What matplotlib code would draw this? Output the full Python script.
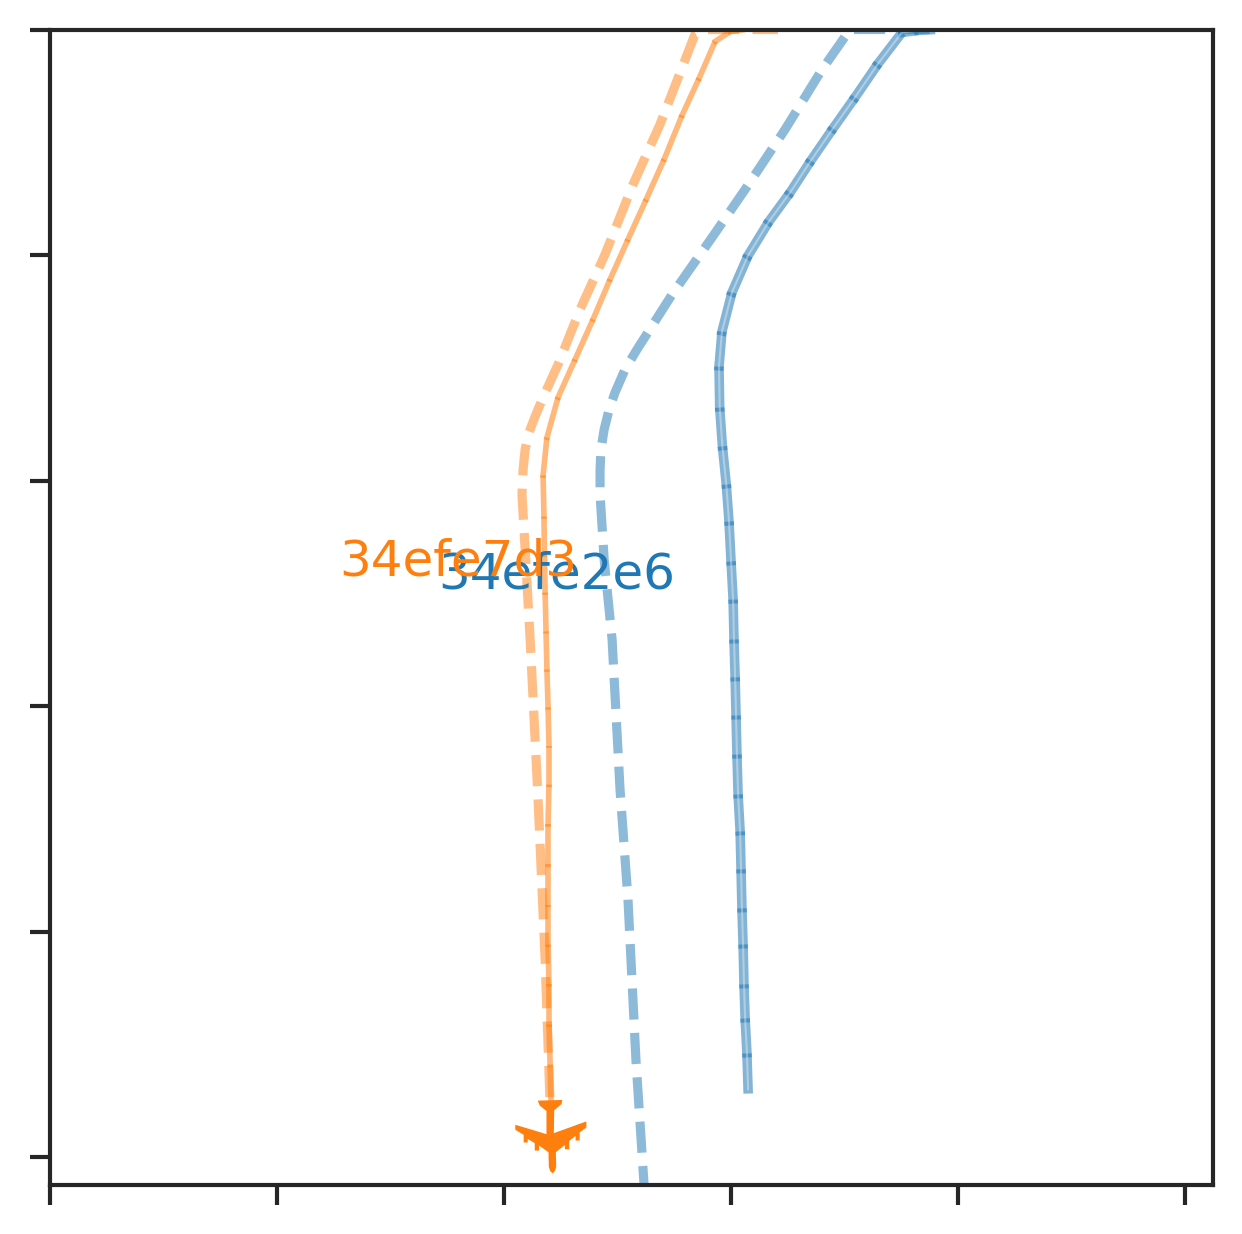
import numpy as np
import seaborn as sns
import matplotlib
matplotlib.use("Agg")
import matplotlib.pyplot as plt
from matplotlib.path import Path

sns.set_style("ticks")

blue = "#1f77b4"
orange = "#ff7f0e"

blue_x = [307.5, 307.0, 306.2, 305.7, 305.3, 304.8, 304.4, 304.0, 303.1, 302.6, 302.2, 301.8, 301.3, 300.9, 300.0, 299.1,
          297.9, 296.2, 295.0, 294.7, 296.0, 300.4, 307.5, 316.7, 326.0, 335.2, 344.9, 354.6, 364.8, 375.3, 382.4, 389.9]
blue_y = [30.1, 46.1, 61.6, 76.7, 94.4, 110.4, 127.7, 144.5, 160.9, 178.6, 195.9, 212.8, 229.6, 247.3, 264.2, 281.9,
          298.3, 315.2, 332.4, 350.6, 366.1, 383.4, 399.8, 414.9, 427.7, 441.9, 456.1, 469.9, 484.9, 498.7, 499.6, 500.0]

orange_x = [220.7, 220.3, 219.8, 219.8, 219.4, 219.4, 219.4, 219.4, 219.8, 219.8, 219.4, 218.9, 218.5, 218.1, 217.8, 217.6,
            217.2, 218.9, 223.8, 231.3, 239.2, 246.7, 254.6, 262.6, 270.5, 278.4, 285.9, 293.0, 299.6, 306.2]
orange_y = [23.5, 41.2, 59.0, 76.7, 94.4, 112.1, 129.9, 147.6, 165.3, 182.6, 199.5, 216.3, 233.2, 250.4, 267.3, 284.1,
            302.3, 319.1, 336.9, 353.7, 371.5, 389.2, 406.9, 424.6, 442.4, 461.9, 478.3, 494.7, 499.1, 500.0]

blue_plan_x = [262.1, 258.1, 254.6, 251.1, 247.6, 244.1, 242.3, 242.3, 242.7, 244.1, 246.3, 248.9, 253.3, 258.6, 274.0,
               291.6, 306.2, 323.8, 340.1, 352.4, 389.9]
blue_plan_y = [-18.6, 43.4, 114.4, 163.1, 229.6, 265.1, 293.9, 305.0, 313.8, 322.7, 331.6, 339.1, 349.3, 358.2, 382.5,
               407.8, 429.1, 455.7, 482.3, 500.0, 500.0]

orange_plan_x = [220.3, 218.1, 215.0, 211.5, 208.8, 207.9, 208.4, 209.3, 211.0, 213.7, 217.2, 223.8, 233.5, 244.5, 256.8,
                 268.7, 284.1, 288.5, 320.7]
orange_plan_y = [23.5, 87.8, 158.7, 229.6, 278.4, 293.9, 305.0, 313.8, 321.4, 328.5, 336.9, 351.5, 375.9, 400.3, 431.3,
                 457.9, 497.8, 500.0, 500.0]

plane_x = [220.3]
plane_y = [9.3]

labels = ["34efe7d3", "34efe2e6"]
label_x = [127.5, 171.0]
label_y = [258.4, 252.8]

x_ticks = [0, 100, 200, 300, 400, 500]
y_ticks = [0, 100, 200, 300, 400, 500]

# outline of the plane, nose pointing down
plane_outline = [(-38, 107), (35, 109), (33, 97), (11, 78), (10, 10), (107, 45), (107, 27), (87, 12), (87, -12), (75, -12),
                 (75, 2), (56, -13), (56, -38), (43, -38), (43, -25), (16, -47), (17, -90), (13, -103), (6, -110), (-1, -103),
                 (-5, -90), (-6, -47), (-34, -27), (-34, -42), (-47, -42), (-47, -20), (-68, -7), (-68, -18), (-80, -18),
                 (-80, 5), (-105, 20), (-105, 35), (-12, 7), (-12, 76), (-32, 92), (-38, 107)]


def draw_track(ax, xs, ys, color, width, overlap, alpha):
    # every leg on its own, so the legs overlap and darken at the joints
    xs = np.array(xs)
    ys = np.array(ys)
    for i in range(len(xs) - 1):
        dx = xs[i + 1] - xs[i]
        dy = ys[i + 1] - ys[i]
        d = np.hypot(dx, dy)
        ax.plot([xs[i] - overlap * dx / d, xs[i + 1]], [ys[i] - overlap * dy / d, ys[i + 1]], color=color,
                lw=width, alpha=alpha, solid_capstyle="butt")


fig = plt.figure(figsize=(12.42 / 3, 12.35 / 3), dpi=300)
ax = fig.add_axes([50 / 1242, 49.5 / 1235, 1163 / 1242, 1155 / 1235])

ax.plot(orange_plan_x, orange_plan_y, color=orange, lw=2.2, ls=(4.05, (3.4, 1.45)), alpha=0.5)
ax.plot(blue_plan_x, blue_plan_y, color=blue, lw=2.2, ls=(4.6, (3.4, 1.45)), alpha=0.5)

draw_track(ax, orange_x, orange_y, orange, 1.35, 1.0, 0.55)
draw_track(ax, blue_x, blue_y, blue, 2.3, 1.8, 0.55)
ax.plot(blue_x, blue_y, color="white", lw=0.5, alpha=0.35)

plane = Path(plane_outline, closed=True)
ax.plot(plane_x, plane_y, marker=plane, ms=17.7, color=orange, mew=0, ls="none", clip_on=False, zorder=5)

ax.text(label_x[1], label_y[1], labels[1], color=blue, fontsize=12, zorder=6)
ax.text(label_x[0], label_y[0], labels[0], color=orange, fontsize=12, zorder=7)

ax.set_xlim(0, 512.3)
ax.set_ylim(-12, 500)
ax.set_xticks(x_ticks)
ax.set_yticks(y_ticks)
ax.set_xticklabels([])
ax.set_yticklabels([])
ax.tick_params(length=4.8, width=1, color=".15")
for s in ax.spines.values():
    s.set_linewidth(1)
    s.set_color(".15")

fig.savefig("out.png", dpi=300)
